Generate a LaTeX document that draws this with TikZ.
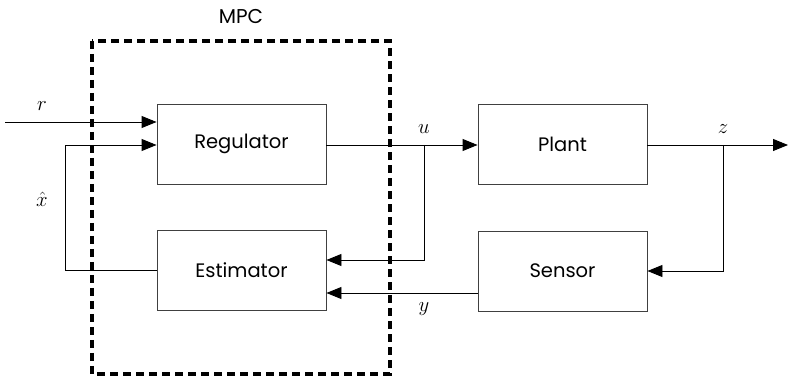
\documentclass[tikz,border=0pt]{standalone}
\usepackage{fontspec}
\setmainfont{Poppins}
\usetikzlibrary{arrows.meta}
\begin{document}
\begin{tikzpicture}[x=1pt,y=-1pt,
  block/.style={draw=black!75,line width=0.9pt,minimum width=169pt,minimum height=80pt,inner sep=0pt,font=\fontsize{19.5}{22}\selectfont},
  wire/.style={line width=0.9pt},
  flow/.style={wire,-{Triangle[length=15pt,width=12pt]}},
  sig/.style={font=\fontsize{21}{24}\selectfont}]
\useasboundingbox (0,0) rectangle (788,379);
% controller boundary
\draw[line width=3.6pt,dash pattern=on 8pt off 5pt] (92,41) rectangle (390,374);
\node[font=\fontsize{20}{23}\selectfont] (mpc) at (241,17) {MPC};
% blocks
\node[block] (reg) at (241.5,144) {Regulator};
\node[block] (est) at (241.5,270.5) {Estimator};
\node[block] (plant) at (562.5,144) {Plant};
\node[block] (sens) at (562.5,271) {Sensor};
% branch points
\coordinate (rin) at (5,122);
\coordinate (ub) at (424,145);
\coordinate (zb) at (723,145);
\coordinate (zout) at (788,145);
\coordinate (xl) at (65,145);
% reference input
\draw[flow] (rin) -- (reg.west |- rin);
% state estimate feedback
\draw[flow] (est.west |- 0,270) -- (xl |- 0,270) -- (xl) -- (reg.west |- xl);
% control signal
\draw[flow] (reg.east |- ub) -- (plant.west |- ub);
\draw[flow] (ub) -- (ub |- 0,260) -- (est.east |- 0,260);
% plant output
\draw[flow] (plant.east |- zb) -- (zout);
\draw[flow] (zb) -- (zb |- 0,271) -- (sens.east |- 0,271);
% measurement
\draw[flow] (sens.west |- 0,293) -- (est.east |- 0,293);
% signal labels
\node[sig] (lr) at (42,106) {$r$};
\node[sig] (lx) at (42,199) {$\hat{x}$};
\node[sig] (lu) at (424,129) {$u$};
\node[sig] (lz) at (723,129) {$z$};
\node[sig] (ly) at (424,309) {$y$};
\end{tikzpicture}
\end{document}
